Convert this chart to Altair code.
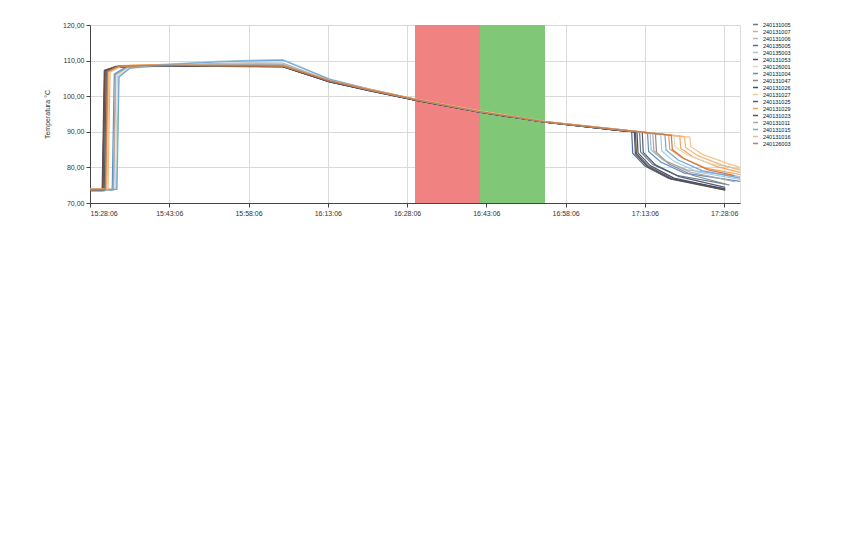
import altair as alt
import pandas as pd

# ---- data ----
SENSORS = ["240131005", "240131007", "240131006", "240135005", "240135003", "240131053",
           "240126001", "240131004", "240131047", "240131026", "240131027", "240131025",
           "240131029", "240131023", "240131011", "240131015", "240131016", "240126003"]
COLORS = ["#6b7b8c", "#f4a460", "#b8b8b8", "#4a6fa5", "#9ecae1", "#555555",
          "#dcd8b8", "#5b8fc7", "#8c8c8c", "#3b4f7a", "#f7c68f", "#4f5d75",
          "#f39c4a", "#6b5040", "#a8a8a8", "#6fa8dc", "#f5b77a", "#c77a4a"]

START = "2018-07-11 15:28:06"
# minutes after START
JUMP_MIN = [2.5, 3.0, 4.5, 2.8, 5.0, 2.3, 4.8, 4.2, 2.6, 2.4, 3.2, 2.7, 3.0, 2.4, 4.4, 5.1, 3.4, 2.9]
DROP_MIN = [104.0, 111.6, 106.0, 102.5, 108.0, 103.0, 110.5, 105.5, 107.0, 103.5, 113.5, 104.5,
            109.5, 103.2, 106.5, 108.8, 112.5, 110.0]
END_MIN = [120.2, 123, 123, 120.2, 123, 120.2, 123, 123, 121, 120.2, 123, 120.2,
           123, 120.2, 122, 123, 123, 122]
JUMP_OFFSETS = [0, 0.4, 2.5]
MID_MIN = [12, 24, 30, 36.5, 45.4, 53, 61.5, 73.8, 86.1, 100]
DROP_OFFSETS = [0, 0.2, 2.5, 7]

V01 = [73.6, 73.6, 106.5, 108.2, 108.5, 108.6, 108.5, 108.4, 104.1, 101.6, 99.0, 95.6, 92.8, 90.5, 89.9, 84.3, 80.8, 77.8, 75.3]
V02 = [73.9, 73.9, 107.0, 108.6, 108.9, 108.8, 108.7, 108.6, 104.5, 101.9, 99.2, 95.8, 92.9, 90.7, 88.8, 85.3, 83.0, 80.2, 78.6]
V03 = [73.7, 73.7, 106.0, 108.0, 108.5, 109.2, 109.4, 109.3, 104.4, 101.8, 99.1, 95.7, 92.8, 90.6, 89.6, 84.8, 82.0, 79.3, 77.4]
V04 = [73.5, 73.5, 106.8, 108.3, 108.5, 108.5, 108.4, 108.3, 104.0, 101.6, 98.9, 95.5, 92.7, 90.4, 90.1, 84.0, 80.4, 76.9, 74.0]
V05 = [73.8, 73.8, 105.5, 108.0, 108.8, 109.8, 110.1, 110.3, 104.8, 102.0, 99.2, 95.7, 92.9, 90.7, 89.3, 84.6, 81.7, 78.7, 76.6]
V06 = [73.6, 73.6, 107.2, 108.2, 108.4, 108.5, 108.4, 108.3, 104.0, 101.5, 98.9, 95.5, 92.7, 90.4, 90.0, 83.8, 80.2, 76.7, 73.6]
V07 = [73.9, 73.9, 105.8, 107.8, 108.3, 108.5, 108.6, 108.5, 104.3, 101.8, 99.1, 95.7, 92.8, 90.6, 88.9, 85.8, 83.5, 81.0, 79.6]
V08 = [73.7, 73.7, 106.2, 108.1, 108.6, 108.9, 109.0, 108.9, 104.3, 101.7, 99.0, 95.6, 92.8, 90.5, 89.7, 84.5, 81.5, 78.4, 76.1]
V09 = [73.6, 73.6, 106.9, 108.3, 108.6, 108.6, 108.5, 108.4, 104.1, 101.6, 99.0, 95.6, 92.8, 90.5, 89.5, 84.2, 81.0, 77.8, 75.0]
V10 = [73.5, 73.5, 107.1, 108.2, 108.4, 108.4, 108.3, 108.3, 104.0, 101.5, 98.9, 95.5, 92.7, 90.4, 90.0, 84.1, 80.5, 77.0, 73.9]
V11 = [73.9, 73.9, 106.8, 108.4, 108.7, 108.9, 109.0, 108.8, 104.5, 101.9, 99.2, 95.8, 92.9, 90.7, 88.5, 85.8, 83.6, 81.2, 80.0]
V12 = [73.6, 73.6, 106.9, 108.3, 108.5, 108.5, 108.4, 108.3, 104.0, 101.6, 98.9, 95.5, 92.7, 90.4, 89.8, 84.2, 80.7, 77.4, 74.4]
V13 = [73.8, 73.8, 106.9, 108.5, 108.8, 108.7, 108.6, 108.5, 104.4, 101.8, 99.1, 95.7, 92.9, 90.6, 89.1, 85.2, 82.7, 79.8, 78.0]
V14 = [73.7, 73.7, 107.3, 108.4, 108.6, 108.5, 108.4, 108.4, 104.1, 101.6, 98.9, 95.5, 92.7, 90.4, 90.0, 83.9, 80.3, 76.8, 73.7]
V15 = [73.7, 73.7, 106.1, 108.0, 108.5, 108.8, 108.9, 108.8, 104.3, 101.7, 99.0, 95.6, 92.8, 90.5, 89.6, 84.7, 81.8, 78.7, 76.0]
V16 = [73.8, 73.8, 105.4, 107.9, 108.7, 109.6, 109.9, 110.1, 104.7, 101.9, 99.1, 95.7, 92.8, 90.6, 89.2, 84.9, 82.1, 79.1, 77.0]
V17 = [73.9, 73.9, 106.7, 108.4, 108.7, 108.6, 108.6, 108.5, 104.4, 101.9, 99.2, 95.8, 92.9, 90.7, 88.6, 85.6, 83.3, 80.7, 79.2]
V18 = [73.8, 73.8, 106.9, 108.4, 108.7, 108.6, 108.6, 108.5, 104.3, 101.8, 99.1, 95.7, 92.8, 90.6, 89.0, 85.0, 82.4, 79.3, 77.7]
VALUES = [V01, V02, V03, V04, V05, V06, V07, V08, V09, V10, V11, V12, V13, V14, V15, V16, V17, V18]

BAND_NAMES = ["rosso", "verde"]
BAND_START = ["2018-07-11T16:29:36", "2018-07-11T16:41:54"]
BAND_END = ["2018-07-11T16:41:54", "2018-07-11T16:54:12"]
BAND_COLORS = ["#f08282", "#80c878"]

Y_TICKS = [70, 80, 90, 100, 110, 120]
X_TICK_MIN = [0, 15, 30, 45, 60, 75, 90, 105, 120]
X_END_MIN = 123

# ---- build tables ----
base = pd.Timestamp(START)
def ts(m):
    return (base + pd.Timedelta(seconds=round(m * 60))).strftime("%Y-%m-%dT%H:%M:%S")

def dt(m):
    t = base + pd.Timedelta(seconds=round(m * 60))
    return alt.DateTime(year=t.year, month=t.month, date=t.day,
                        hours=t.hour, minutes=t.minute, seconds=t.second)

rows = []
for i, name in enumerate(SENSORS):
    times = ([0] + [JUMP_MIN[i] + o for o in JUMP_OFFSETS] + MID_MIN
             + [DROP_MIN[i] + o for o in DROP_OFFSETS] + [END_MIN[i]])
    for k, (m, v) in enumerate(zip(times, VALUES[i])):
        rows.append({"sensore": name, "ora": ts(m), "temp": v, "k": k})
lines_df = pd.DataFrame(rows)
bands_df = pd.DataFrame({"zona": BAND_NAMES, "da": BAND_START, "a": BAND_END})

x_scale = alt.Scale(domain=[dt(0), dt(X_END_MIN)])
x_axis = alt.Axis(values=[dt(m) for m in X_TICK_MIN], format="%H:%M:%S", title=None,
                  grid=True, gridColor="#d9d9d9", labelFontSize=7, labelColor="#333",
                  domainColor="#444", tickColor="#444", tickSize=4, labelPadding=2)
y_axis = alt.Axis(values=Y_TICKS, title="Temperatura °C", grid=True, gridColor="#d9d9d9",
                  labelExpr="replace(format(datum.value, '.2f'), '.', ',')",
                  labelFontSize=7, labelColor="#333", titleFontSize=7,
                  titleFontWeight="normal", titleColor="#333", titlePadding=12,
                  domainColor="#444", tickColor="#444", tickSize=4, labelPadding=2)

bands = alt.Chart(bands_df).mark_rect(opacity=1).encode(
    x=alt.X("da:T", scale=x_scale, axis=x_axis),
    x2="a:T",
    fill=alt.Fill("zona:N", scale=alt.Scale(domain=BAND_NAMES, range=BAND_COLORS), legend=None),
)

lines = alt.Chart(lines_df).mark_line(strokeWidth=1.2, clip=True).encode(
    x=alt.X("ora:T", scale=x_scale, axis=x_axis),
    y=alt.Y("temp:Q", scale=alt.Scale(domain=[70, 120], nice=False), axis=y_axis),
    color=alt.Color("sensore:N", scale=alt.Scale(domain=SENSORS, range=COLORS),
                    sort=SENSORS,
                    legend=alt.Legend(title=None, symbolType="stroke", labelFontSize=5.5,
                                      symbolSize=25, symbolStrokeWidth=1.5, rowPadding=-1,
                                      orient="none", legendX=662, legendY=-4,
                                      padding=0, labelColor="#111",
                                      symbolOffset=0, labelOffset=4)),
    detail="sensore:N",
    order="k:Q",
)

chart = alt.layer(bands, lines).properties(
    width=650, height=178,
    autosize=alt.AutoSizeParams(type="none"),
    padding={"left": 82, "top": 17, "right": 94, "bottom": 330},
    background="white",
).configure_view(stroke=None).configure(font="Liberation Sans")

chart.save("out.html", embed_options={"renderer": "svg", "actions": False})
